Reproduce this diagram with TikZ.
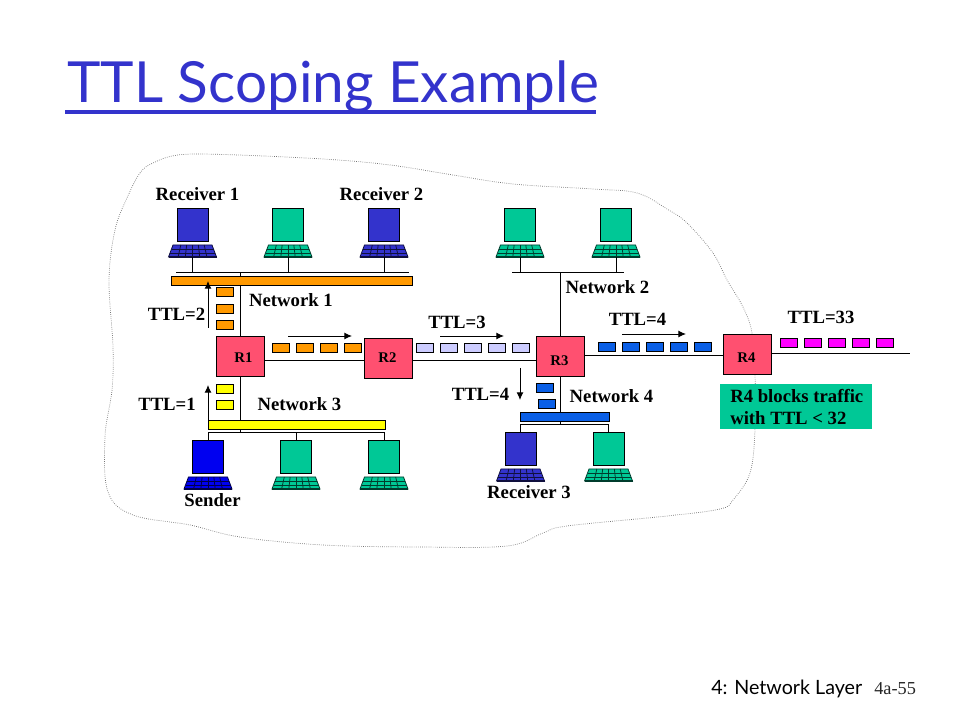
\documentclass[tikz,border=0pt]{standalone}
\usepackage{fontspec}
\setmainfont{Liberation Serif}
\newfontfamily\titlefont{Lato}
\usetikzlibrary{arrows.meta}
\definecolor{teal1}{HTML}{00C896}
\definecolor{indigo1}{HTML}{3333CC}
\definecolor{router1}{HTML}{FF5070}
\definecolor{orange1}{HTML}{FF9900}
\definecolor{yellow1}{HTML}{FFFF00}
\definecolor{blue1}{HTML}{0A5FE6}
\definecolor{blue2}{HTML}{0000F0}
\definecolor{lav1}{HTML}{CCCCFF}
\definecolor{magenta1}{HTML}{FF00FF}
\tikzset{
  router/.style={draw,fill=router1,line width=.6pt,minimum width=1.2cm,minimum height=1cm,inner sep=0pt},
  rlabel/.style={font=\fontsize{10.5}{12}\selectfont\bfseries},
  lbl/.style={font=\fontsize{13.3}{15}\selectfont\bfseries},
  packet/.style={draw,line width=.5pt,minimum width=.425cm,minimum height=.22cm,inner sep=0pt},
  bus/.style={draw,line width=.5pt,minimum height=.23cm,inner sep=0pt},
  wire/.style={line width=.6pt},
  ttlarrow/.style={line width=.7pt,-{Latex[length=5.5pt,width=5pt]}},
  pics/computer/.style 2 args={code={
    \node[draw,fill=#1,line width=.6pt,minimum width=.775cm,minimum height=.825cm,inner sep=0pt] (-screen) at (0,16.5){};
    \draw[fill=#1,line width=.55pt,draw=#2] (-19.5,37) -- (19.5,37) -- (24,49) -- (-24,49) -- cycle;
    \foreach \u in {-.6,-.3,0,.3,.6}
      \draw[line width=.55pt,draw=#2] (\u*19.5,37) -- (\u*24,49);
    \foreach \v/\w in {41/21,45/22.5}
      \draw[line width=.55pt,draw=#2] (-\w,\v) -- (\w,\v);
    \draw[line width=.8pt,draw=#2] (-24,49) -- (24,49);
    \coordinate (-base) at (0,49);
  }},
}
\begin{document}
\begin{tikzpicture}[x=.025cm,y=-.025cm]
\useasboundingbox (0,0) rectangle (960,720);
% title and footer
\node[anchor=base west,inner sep=0pt,text=indigo1,font=\titlefont\fontsize{40.3}{48}\selectfont] (title) at (67,103){TTL Scoping Example};
\coordinate (ulinea) at (65,112); \coordinate (ulineb) at (596,112);
\draw[indigo1,line width=2.8pt] (ulinea) -- (ulineb);
\node[anchor=base west,inner sep=0pt,font=\titlefont\fontsize{14}{16}\selectfont] (foot) at (711,694){4: Network Layer};
\node[anchor=base west,inner sep=0pt,font=\fontsize{13}{14}\selectfont,text=black!85] (page) at (874,694){4a-55};
% cloud
\draw[black!55,line width=.5pt,densely dotted] plot[smooth cycle,tension=.6] coordinates {(127,198)(140,173)(153,163)(178,155)(223,154.5)(323,159)(390,165)(453,175)(513,184)(593,189)(637,193)(667,209)(687,223)(713,253)(727,280)(743,307)(752,333)(755,375)(755,430)(750,473)(733,500)(720,509)(667,516)(567,526)(543,533)(507,546)(420,547)(323,545)(240,537)(190,525)(133,515)(108,492)(105,437)(112,390)(113,347)(109,280)(115,230)};
% routers
\node[router] (r1) at (240.5,356){};
\node[router] (r2) at (388.5,358){};
\node[router] (r3) at (560,356.5){};
\node[router] (r4) at (747,354){};
\node[rlabel] at (243.5,358){R1};
\node[rlabel] at (387.5,358){R2};
\node[rlabel] at (559.5,361){R3};
\node[rlabel] at (746.5,358){R4};
% computers
\pic (rx1) at (192.5,208) {computer={indigo1}{black!70!indigo1}};
\pic (c12) at (288,208) {computer={teal1}{black!70!teal1}};
\pic (rx2) at (384,208) {computer={indigo1}{black!70!indigo1}};
\pic (c21) at (520,208) {computer={teal1}{black!70!teal1}};
\pic (c22) at (616,208) {computer={teal1}{black!70!teal1}};
\pic (snd) at (208,440) {computer={blue2}{black!70!blue2}};
\pic (c32) at (296,440) {computer={teal1}{black!70!teal1}};
\pic (c33) at (384,440) {computer={teal1}{black!70!teal1}};
\pic (rx3) at (520.5,432) {computer={indigo1}{black!70!indigo1}};
\pic (c42) at (608.5,432) {computer={teal1}{black!70!teal1}};
% network lines
\coordinate (n1a) at (176,272); \coordinate (n1b) at (409,272);
\coordinate (n2a) at (512,272); \coordinate (n2b) at (624,272);
\coordinate (n3a) at (208,432); \coordinate (n3b) at (384,432);
\coordinate (n4a) at (520.5,424); \coordinate (n4b) at (608.5,424);
\draw[wire] (n1a) -- (n1b); \draw[wire] (n2a) -- (n2b);
\draw[wire] (n3a) -- (n3b); \draw[wire] (n4a) -- (n4b);
\foreach \c in {rx1,c12,rx2} \draw[wire] (\c-base) -- (\c-base |- n1a);
\foreach \c in {c21,c22} \draw[wire] (\c-base) -- (\c-base |- n2a);
\foreach \c in {snd,c32,c33} \draw[wire] (\c-screen.north) -- (\c-screen.north |- n3a);
\foreach \c in {rx3,c42} \draw[wire] (\c-screen.north) -- (\c-screen.north |- n4a);
\draw[wire] (r1.north) -- (r1.north |- n1a);
\draw[wire] (r1.south) -- (r1.south |- n3a);
\draw[wire] (r3.north) -- (r3.north |- n2a);
\draw[wire] (r3.south) -- (r3.south |- n4a);
\coordinate (l12) at (300,360); \coordinate (l34) at (650,355); \coordinate (lout) at (910,353);
\draw[wire] (r1.east |- l12) -- (r2.west |- l12);
\draw[wire] (r2.east |- l12) -- (r3.west |- l12);
\draw[wire] (r3.east |- l34) -- (r4.west |- l34);
\draw[wire] (r4.east |- lout) -- (lout);
% buses
\node[bus,fill=orange1,minimum width=6.025cm] (net1) at (291.5,280.5){};
\node[bus,fill=yellow1,minimum width=4.425cm] (net3) at (296.5,424.5){};
\node[bus,fill=blue1,minimum width=2.225cm] (net4) at (564.5,417){};
% packets
\foreach \y in {292,308.5,324.5} \node[packet,fill=orange1] at (224.5,\y){};
\foreach \x in {280.5,304.5,328.5,352.5} \node[packet,fill=orange1] at (\x,348){};
\foreach \x in {424.5,448.5,472.5,496.5,520.5} \node[packet,fill=lav1] at (\x,348){};
\foreach \x in {606.5,630.5,654.5,678.5,702.5} \node[packet,fill=blue1] at (\x,346.5){};
\foreach \x in {788.5,812.5,836.5,860.5,884.5} \node[packet,fill=magenta1] at (\x,342.5){};
\foreach \y in {388.5,404.5} \node[packet,fill=yellow1] at (224.5,\y){};
\node[packet,fill=blue1] at (544.5,388){};
\node[packet,fill=blue1] at (546.5,404){};
% ttl arrows
\coordinate (a1s) at (208,328); \coordinate (a1e) at (208,281);
\coordinate (a2s) at (288,336); \coordinate (a2e) at (352,336);
\coordinate (a3s) at (440,336); \coordinate (a3e) at (504,336);
\coordinate (a4s) at (622,334); \coordinate (a4e) at (686,334);
\coordinate (a5s) at (208,420); \coordinate (a5e) at (208,385);
\coordinate (a6s) at (520,368); \coordinate (a6e) at (520,400);
\foreach \a in {1,...,6} \draw[ttlarrow] (a\a s) -- (a\a e);
% labels
\node[lbl] at (197.5,194){Receiver 1};
\node[lbl] at (381.5,194){Receiver 2};
\node[lbl] at (291,300){Network 1};
\node[lbl] at (176.5,314){TTL=2};
\node[lbl] at (299.5,404){Network 3};
\node[lbl] at (167,404){TTL=1};
\node[lbl] at (212.5,500){Sender};
\node[lbl] at (457,322){TTL=3};
\node[lbl] at (607.5,287){Network 2};
\node[lbl] at (637.5,319){TTL=4};
\node[lbl] at (821,317){TTL=33};
\node[lbl] at (480.5,394){TTL=4};
\node[lbl] at (611.5,396){Network 4};
\node[lbl] at (529,492){Receiver 3};
% blocking note
\node[fill=teal1,minimum width=3.8cm,minimum height=1.125cm,inner sep=0pt] (note) at (796,406.5){};
\node[lbl,anchor=west,inner sep=0pt] at (730,396){R4 blocks traffic};
\node[lbl,anchor=west,inner sep=0pt] at (730,418){with TTL < 32};
\end{tikzpicture}
\end{document}
